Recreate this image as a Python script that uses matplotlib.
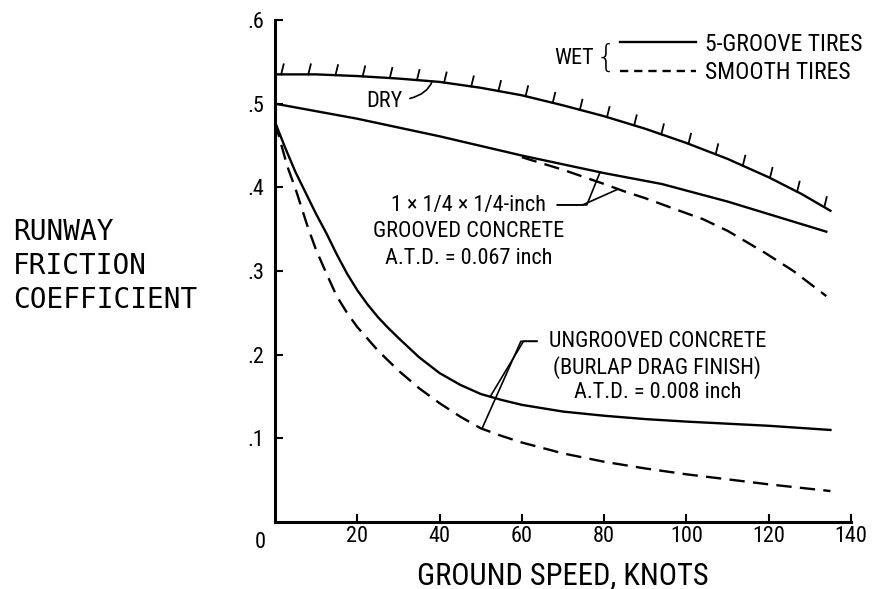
import numpy as np
import matplotlib.pyplot as plt
from matplotlib import font_manager
from matplotlib.lines import Line2D

# speeds (knots) and friction values
dry_x = [0, 10, 20, 30, 40, 50, 60, 70, 80, 90, 100, 110, 120, 128, 135]
dry_y = [0.535, 0.535, 0.533, 0.530, 0.526, 0.519, 0.510, 0.498, 0.485, 0.470, 0.453, 0.434, 0.412, 0.392, 0.372]

grooved_x = [0, 20, 40, 60, 80, 94, 110, 120, 134]
grooved_solid = [0.500, 0.482, 0.461, 0.438, 0.417, 0.404, 0.383, 0.368, 0.347]
grooved_dash_x = [60, 70, 80, 85, 90, 100, 104, 110, 119, 126, 134]
grooved_dash = [0.436, 0.421, 0.404, 0.395, 0.387, 0.369, 0.362, 0.348, 0.322, 0.300, 0.270]

ungrooved_x = [0, 2.5, 5, 7.5, 10, 12.5, 15, 17.5, 20, 22.5, 25, 27.5, 30, 35, 40, 45, 50, 55, 60,
               70, 80, 90, 100, 120, 135]
ungrooved_solid = [0.478, 0.447, 0.418, 0.393, 0.368, 0.345, 0.320, 0.297, 0.277, 0.260, 0.245,
                   0.232, 0.220, 0.197, 0.178, 0.164, 0.153, 0.146, 0.140, 0.132, 0.127, 0.123,
                   0.120, 0.115, 0.110]
ungrooved_dash_x = [0, 3, 5, 8, 10, 12.5, 15, 17.5, 20, 25, 30, 35, 40, 45, 50, 55, 60, 70, 80,
                    90, 100, 110, 120, 135]
ungrooved_dash = [0.478, 0.425, 0.398, 0.352, 0.325, 0.297, 0.270, 0.250, 0.233, 0.205, 0.181,
                  0.160, 0.142, 0.126, 0.112, 0.103, 0.095, 0.082, 0.072, 0.064, 0.057, 0.051,
                  0.045, 0.037]

xticks = [20, 40, 60, 80, 100, 120, 140]
yticks = [0.1, 0.2, 0.3, 0.4, 0.5, 0.6]
ytick_labels = ['.1', '.2', '.3', '.4', '.5', '.6']

# pick a narrow sans if one is installed
installed = {f.name for f in font_manager.fontManager.ttflist}
candidates = ['Liberation Sans Narrow', 'Roboto Condensed', 'Archivo Narrow', 'PT Sans Narrow',
              'Fira Sans Condensed', 'IBM Plex Sans Condensed', 'Barlow Semi Condensed',
              'Encode Sans Condensed', 'Asap Condensed', 'Open Sans Condensed', 'Liberation Sans']
narrow = next((c for c in candidates if c in installed), 'DejaVu Sans')
NARROW = [narrow, 'DejaVu Sans']
FS = 16 if narrow != 'Liberation Sans' else 13

LW = 1.7
DASH = (0, (6.5, 3.5))

fig = plt.figure(figsize=(8.73, 5.89), dpi=100)
ax = fig.add_axes([275 / 873, 1 - 522 / 589, 576 / 873, 502 / 589])

ax.plot(dry_x, dry_y, color='black', lw=LW)
ax.plot(grooved_x, grooved_solid, color='black', lw=LW)
ax.plot(grooved_dash_x, grooved_dash, color='black', lw=LW, linestyle=DASH)
ax.plot(ungrooved_x, ungrooved_solid, color='black', lw=LW)
ax.plot(ungrooved_dash_x, ungrooved_dash, color='black', lw=LW, linestyle=DASH)

# hatching on top of the dry curve
hx = np.arange(1.5, 136, 6.6)
hy = np.interp(hx, dry_x, dry_y)
for x0, y0 in zip(hx, hy):
    ax.plot([x0, x0 + 0.6], [y0, y0 + 0.012], color='black', lw=1.3, clip_on=False)

ax.set_xlim(0, 140)
ax.set_ylim(0, 0.6)
for side in ['top', 'right']:
    ax.spines[side].set_visible(False)
for side in ['left', 'bottom']:
    ax.spines[side].set_linewidth(2.2)

ax.set_xticks(xticks)
ax.set_xticklabels([str(t) for t in xticks], family=NARROW, fontsize=FS)
ax.set_yticks(yticks)
ax.set_yticklabels(ytick_labels, family=NARROW, fontsize=FS)
ax.tick_params(axis='both', direction='in', length=6, width=1.5)
ax.tick_params(axis='x', pad=3)
ax.tick_params(axis='y', pad=8)
ax.annotate('0', xy=(0, 0), xytext=(-15, -20), textcoords='offset pixels',
            ha='center', va='center', family=NARROW, fontsize=FS)

ax.set_xlabel('GROUND SPEED, KNOTS', family=NARROW, fontsize=FS + 6, labelpad=10)
for i, line in enumerate(['RUNWAY', 'FRICTION', 'COEFFICIENT']):
    fig.text(13 / 873, 1 - (232 + 34 * i) / 589, line, family='DejaVu Sans Mono',
             fontsize=20, ha='left', va='center')

# labels with leader lines
ax.annotate('DRY', xy=(38.2, np.interp(38.2, dry_x, dry_y)), xytext=(26.7, 0.503),
            ha='center', va='center', family=NARROW, fontsize=FS,
            arrowprops=dict(arrowstyle='-', lw=1.2, shrinkA=3, shrinkB=0,
                            connectionstyle='angle3,angleA=0,angleB=70'))

ax.text(47.0, 0.347, '1 \u00d7 1/4 \u00d7 1/4-inch\nGROOVED CONCRETE\nA.T.D. = 0.067 inch',
        ha='center', va='center', family=NARROW, fontsize=FS, linespacing=1.35)
ax.annotate('', xy=(79, np.interp(79, grooved_x, grooved_solid)), xytext=(68.6, 0.379),
            arrowprops=dict(arrowstyle='-', lw=1.2, shrinkA=0, shrinkB=0,
                            connectionstyle='angle,angleA=0,angleB=68,rad=0'))
ax.annotate('', xy=(83.4, np.interp(83.4, grooved_dash_x, grooved_dash)), xytext=(68.6, 0.379),
            arrowprops=dict(arrowstyle='-', lw=1.2, shrinkA=0, shrinkB=0,
                            connectionstyle='angle,angleA=0,angleB=24,rad=0'))

ax.text(92.9, 0.185, 'UNGROOVED CONCRETE\n(BURLAP DRAG FINISH)\nA.T.D. = 0.008 inch',
        ha='center', va='center', family=NARROW, fontsize=FS, linespacing=1.22)
ax.annotate('', xy=(52.3, np.interp(52.3, ungrooved_x, ungrooved_solid)), xytext=(63.7, 0.216),
            arrowprops=dict(arrowstyle='-', lw=1.2, shrinkA=0, shrinkB=0,
                            connectionstyle='angle,angleA=0,angleB=59,rad=0'))
ax.annotate('', xy=(50.3, np.interp(50.3, ungrooved_dash_x, ungrooved_dash)), xytext=(63.7, 0.216),
            arrowprops=dict(arrowstyle='-', lw=1.2, shrinkA=0, shrinkB=0,
                            connectionstyle='angle,angleA=0,angleB=66,rad=0'))

# legend
handles = [Line2D([], [], color='black', lw=LW),
           Line2D([], [], color='black', lw=LW, linestyle=(0, (3.5, 2.5)))]
ax.legend(handles, ['5-GROOVE TIRES', 'SMOOTH TIRES'], loc='upper left',
          bbox_to_anchor=(0.599, 0.975), frameon=False, handlelength=3.2,
          handletextpad=0.4, labelspacing=0.25, borderpad=0, borderaxespad=0,
          prop={'family': NARROW, 'size': FS + 1})
ax.text(0.519, 0.924, 'WET', transform=ax.transAxes, ha='center', va='center',
        family=NARROW, fontsize=FS)
ax.text(0.574, 0.924, '{', transform=ax.transAxes, ha='center', va='center',
        family='DejaVu Sans', fontsize=23, fontweight='light')

fig.savefig('out.png', dpi=100)
